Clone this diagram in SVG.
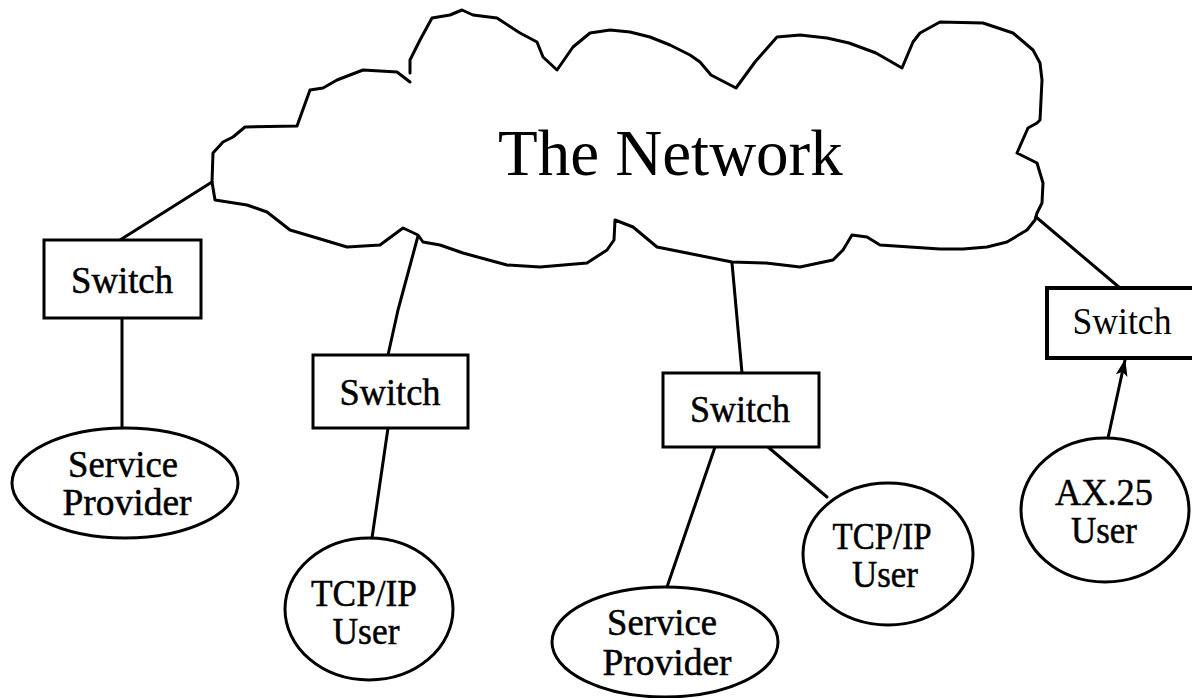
<svg xmlns="http://www.w3.org/2000/svg" width="1192" height="698" viewBox="0 0 1192 698">
<style>
.ln{fill:none;stroke:#000;stroke-width:3;stroke-linejoin:round;stroke-linecap:round}
.box{fill:#fff;stroke:#000;stroke-width:3}
.shape{fill:#fff;stroke:#000;stroke-width:3}
.lbl{font-family:"Liberation Serif","Times New Roman",serif;font-size:38px;fill:#000;stroke:#000;stroke-width:0.5;text-anchor:middle}
.lbl2{font-family:"Liberation Serif","Times New Roman",serif;font-size:37px;fill:#000;text-anchor:middle}
.title{font-family:"Liberation Serif","Times New Roman",serif;font-size:65px;fill:#000}
</style>
<defs>
<marker id="arr" viewBox="0 0 17 12" refX="16" refY="6" markerWidth="17" markerHeight="12" markerUnits="userSpaceOnUse" orient="auto">
<path d="M0,0 L17,6 L0,12 L4,6 z" fill="#000"/>
</marker>
</defs>
<rect width="1192" height="698" fill="#fff"/>
<g id="cloud">
<path class="ln" d="M212,182 L213,153 L223,142 L233,137 L245,127 L297,126 L310,90 L323,88 L337,80 L363,70 L397,72 L410,82 M410,73 L410,60 L420,40 L432,18 L450,15 L462,10 L473,15 L497,18 L520,33 L537,42 L543,57 L557,70 L573,47 L590,33 L610,30 L630,32 L650,37 L670,45 L690,55 L700,62 L711,75 L736,88 L755,62 L777,37 L800,35 L827,38 L849,43 L876,53 L902,68 L913,42 L920,33 L940,22 L983,23 L1013,33 L1033,50 L1040,63 L1042,80 L1040,120 L1037,123 L1028,128 L1017,153 L1027,158 L1037,163 L1043,183 L1042,203 L1037,213 L1035,220 L1027,230 L1007,242 L987,247 L963,249 L940,249 L910,247 L880,245 L867,237 L852,235 L843,250 L833,260 L800,267 L766,263 L732,262 L687,253 L657,247 L633,227 L615,220 L614,240 L607,250 L587,263 L540,267 L507,265 L463,253 L440,245 L423,242 L418,235 L403,228 L380,245 L347,247 L317,238 L290,230 L267,212 L247,205 L215,200 L212,182"/>
<text class="title" x="498" y="175">The Network</text>
</g>
<g id="connectors">
<line class="ln" x1="120" y1="240" x2="212" y2="182"/>
<line class="ln" x1="122" y1="318" x2="122" y2="427"/>
<polyline class="ln" points="418,236 398,310 388,355"/>
<line class="ln" x1="388" y1="428" x2="372" y2="538"/>
<line class="ln" x1="732" y1="263" x2="742" y2="373"/>
<line class="ln" x1="715" y1="447" x2="667" y2="587"/>
<line class="ln" x1="768" y1="447" x2="827" y2="497"/>
<line class="ln" x1="1036" y1="217" x2="1120" y2="288"/>
<line class="ln" x1="1108" y1="438" x2="1125" y2="360" marker-end="url(#arr)"/>
</g>
<g id="switch1">
<rect class="box" x="44" y="240" width="157" height="78"/>
<text class="lbl" x="122" y="293" textLength="102" lengthAdjust="spacingAndGlyphs">Switch</text>
</g>
<g id="switch2">
<rect class="box" x="313" y="355" width="155" height="73"/>
<text class="lbl" x="390" y="405" textLength="101" lengthAdjust="spacingAndGlyphs">Switch</text>
</g>
<g id="switch3">
<rect class="box" x="663" y="373" width="156" height="74"/>
<text class="lbl" x="740" y="422" textLength="100" lengthAdjust="spacingAndGlyphs">Switch</text>
</g>
<g id="switch4">
<rect class="box" x="1047" y="288" width="160" height="70" style="stroke-width:4"/>
<text class="lbl2" x="1122" y="334" textLength="99" lengthAdjust="spacingAndGlyphs">Switch</text>
</g>
<g id="provider1">
<ellipse class="shape" cx="125" cy="483" rx="113" ry="55"/>
<text class="lbl" x="123" y="477" textLength="110" lengthAdjust="spacingAndGlyphs">Service</text>
<text class="lbl" x="127" y="515" textLength="129" lengthAdjust="spacingAndGlyphs">Provider</text>
</g>
<g id="tcpip1">
<ellipse class="shape" cx="369" cy="609" rx="84" ry="71"/>
<text class="lbl" x="364" y="606" textLength="106" lengthAdjust="spacingAndGlyphs">TCP/IP</text>
<text class="lbl" x="366" y="644" textLength="67" lengthAdjust="spacingAndGlyphs">User</text>
</g>
<g id="provider2">
<ellipse class="shape" cx="665" cy="642" rx="113" ry="55"/>
<text class="lbl" x="662" y="635" textLength="110" lengthAdjust="spacingAndGlyphs">Service</text>
<text class="lbl" x="667" y="675" textLength="129" lengthAdjust="spacingAndGlyphs">Provider</text>
</g>
<g id="tcpip2">
<ellipse class="shape" cx="888" cy="554" rx="85" ry="71"/>
<text class="lbl" x="882" y="549" textLength="99" lengthAdjust="spacingAndGlyphs">TCP/IP</text>
<text class="lbl" x="885" y="587" textLength="66" lengthAdjust="spacingAndGlyphs">User</text>
</g>
<g id="ax25">
<ellipse class="shape" cx="1105" cy="510" rx="84" ry="72"/>
<text class="lbl" x="1104" y="505" textLength="98" lengthAdjust="spacingAndGlyphs">AX.25</text>
<text class="lbl" x="1104" y="543" textLength="66" lengthAdjust="spacingAndGlyphs">User</text>
</g>
</svg>
